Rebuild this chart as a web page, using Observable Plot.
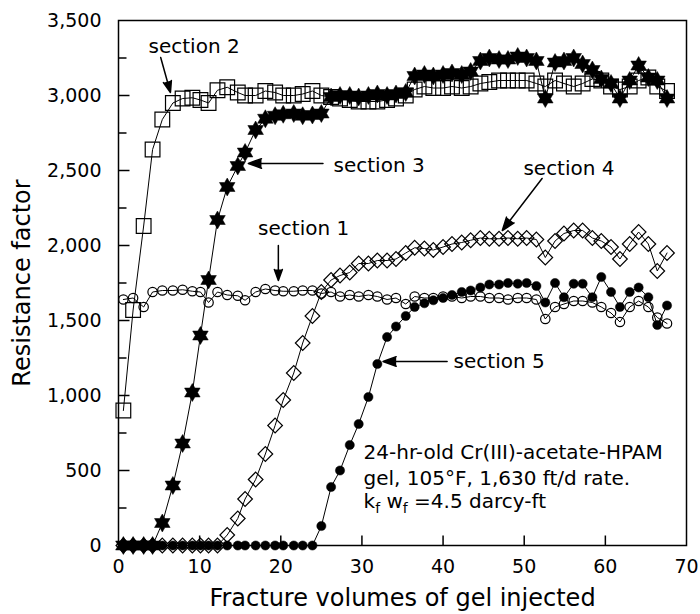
<!DOCTYPE html>
<html><head><meta charset="utf-8">
<script src="https://cdn.jsdelivr.net/npm/d3@7"></script>
<script src="https://cdn.jsdelivr.net/npm/@observablehq/plot@0.6"></script>
<style>body{margin:0;background:#fff}</style>
</head><body><div id="chart"></div>
<script>
// Fracture volumes of gel injected (shared sampling points)
const fv = [0.6,1.8,3.1,4.2,5.4,6.7,7.9,9.1,10.1,11.1,12.2,13.4,14.7,15.6,16.9,18.1,19.3,20.3,21.6,22.7,23.9,25.0,26.2,27.3,28.5,29.6,30.8,31.9,33.1,34.2,35.4,36.5,37.7,38.8,40.0,41.1,42.3,43.4,44.6,45.7,46.9,48.0,49.2,50.3,51.5,52.6,53.8,54.9,56.1,57.2,58.4,59.5,60.7,61.8,63.0,64.1,65.3,66.4,67.6];
// Resistance factor per section
const section1 = [1640,1650,1590,1690,1700,1700,1705,1695,1690,1620, 1690,1670,1665,1635,1690,1710,1700,1695,1695,1700, 1700,1680,1690,1660,1670,1660,1670,1660,1640,1650, 1610,1660,1650,1650,1660,1660,1650,1660,1660,1650, 1650,1640,1650,1650,1640,1510,1590,1610,1630,1630, 1620,1590,1550,1490,1590,1630,1590,1520,1480];
const section2 = [900,1570,2130,2640,2840,2950,2980,2985,2970,2950, 3035,3055,3020,3000,3000,3030,3020,3000,3000,3010, 3030,3000,2990,2980,2970,2960,2960,2960,2970,2980, 3000,3040,3060,3050,3050,3060,3050,3060,3080,3090, 3100,3100,3100,3100,3080,3060,3100,3080,3060,3080, 3110,3100,3060,3040,3060,3100,3120,3060,3030];
const section3 = [0,0,0,0,150,400,680,1020,1400,1770, 2170,2390,2530,2620,2770,2845,2865,2875,2880,2865, 2870,2880,2990,3000,3000,2990,3000,3010,3000,3010, 3020,3130,3140,3130,3140,3150,3140,3160,3230,3250, 3240,3240,3260,3250,3230,2980,3220,3230,3250,3210, 3170,3110,3080,2980,3100,3200,3120,3100,2980];
const section4 = [0,0,0,0,0,0,0,0,0,0, 0,70,180,310,440,610,800,970,1150,1350, 1530,1690,1770,1800,1820,1880,1880,1900,1900,1910, 1950,1985,1980,1970,1990,2010,2020,2035,2050,2045, 2045,2050,2045,2050,2040,1920,2030,2080,2100,2100, 2050,2030,1990,1910,2010,2090,2010,1830,1950];
const section5 = [0,0,0,0,0,0,0,0,0,0, 0,0,0,0,0,0,0,0,0,0, 0,130,390,500,670,810,990,1210,1390,1460, 1530,1590,1615,1635,1650,1670,1690,1700,1720,1740, 1740,1750,1745,1750,1730,1620,1750,1655,1745,1745, 1655,1790,1690,1590,1690,1720,1655,1470,1600];

const xTicks = [0,10,20,30,40,50,60,70];
const yTicks = [0,500,1000,1500,2000,2500,3000,3500];
const yMinorTicks = [250,750,1250,1750,2250,2750,3250];

// Section labels (data coordinates)
const labelText = ["section 2","section 3","section 1","section 4","section 5"];
const labelX = [3.7, 26.5, 17.2, 49.9, 41.3];
const labelY = [3327, 2533, 2113, 2513, 1227];
// Arrows: start -> tip
const arrowX1 = [5.2, 25.2, 19.7, 52.2, 40.5];
const arrowY1 = [3253, 2547, 2000, 2447, 1227];
const arrowX2 = [6.4, 16.0, 19.7, 47.3, 32.6];
const arrowY2 = [3020, 2547, 1767, 2100, 1227];
// Note lines
const noteText = ["24-hr-old Cr(III)-acetate-HPAM", "gel, 105°F, 1,630 ft/d rate.", "kf wf =4.5 darcy-ft"];
const noteX = [30.2, 30.2, 30.2];
const noteY = [620, 447, 290];

const rows = (ys) => fv.map((x, i) => ({x, y: ys[i]})).filter(d => d.y != null);
const labels = labelText.map((t, i) => ({t, x: labelX[i], y: labelY[i]}));
const arrows = arrowX1.map((x1, i) => ({x1, y1: arrowY1[i], x2: arrowX2[i], y2: arrowY2[i]}));
const notes = noteText.map((t, i) => ({t, x: noteX[i], y: noteY[i]}));

const hexagram = {
  draw(context, size) {
    const R = Math.sqrt(size / Math.PI), r = R / Math.sqrt(3);
    for (let i = 0; i < 12; i++) {
      const a = Math.PI / 6 * i - Math.PI / 2;
      const rr = i % 2 === 0 ? R : r;
      const px = rr * Math.cos(a), py = rr * Math.sin(a);
      if (i) context.lineTo(px, py); else context.moveTo(px, py);
    }
    context.closePath();
  }
};

// layout
const W = 700, H = 614, mL = 118, mR = 14, mT = 20, mB = 69;
const xDomain = [0, 70], yDomain = [0, 3500];
const pxToX = (p) => p * (xDomain[1] - xDomain[0]) / (W - mL - mR);
const pxToY = (p) => p * (yDomain[1] - yDomain[0]) / (H - mT - mB);

// inward tick segments (built from tick values, lengths given in pixels)
const xTickSegs = xTicks.slice(1, -1).map(v => ({x1: v, x2: v, y1: yDomain[0], y2: yDomain[0] + pxToY(10)}));
const yTickSegs = yTicks.slice(1, -1).map(v => ({x1: xDomain[0], x2: xDomain[0] + pxToX(11), y1: v, y2: v}))
  .concat(yMinorTicks.map(v => ({x1: xDomain[0], x2: xDomain[0] + pxToX(8), y1: v, y2: v})));

const fmt = d3.format(",");
const line = (ys) => Plot.line(rows(ys), {x: "x", y: "y", stroke: "black", strokeWidth: 1});

const chart = Plot.plot({
  width: W, height: H,
  marginLeft: mL, marginRight: mR, marginTop: mT, marginBottom: mB,
  style: {fontFamily: "DejaVu Sans", fontSize: "19px", color: "black", background: "white"},
  x: {domain: xDomain},
  y: {domain: yDomain},
  marks: [
    Plot.axisX({ticks: xTicks, tickSize: 0, tickPadding: 14, tickFormat: d => String(d), label: null}),
    Plot.axisY({ticks: yTicks, tickSize: 0, tickPadding: 17, tickFormat: d => fmt(d), label: null}),
    line(section1), Plot.dot(rows(section1), {x: "x", y: "y", r: 4.7, stroke: "black", strokeWidth: 1.2, fill: "none"}),
    line(section2), Plot.dot(rows(section2), {x: "x", y: "y", r: 8.3, symbol: "square", stroke: "black", strokeWidth: 1.2, fill: "none"}),
    line(section4), Plot.dot(rows(section4), {x: "x", y: "y", r: 6.6, symbol: "diamond2", stroke: "black", strokeWidth: 1.2, fill: "none"}),
    line(section3), Plot.dot(rows(section3), {x: "x", y: "y", r: 9, symbol: hexagram, fill: "black", stroke: "black", strokeWidth: 0.5}),
    line(section5), Plot.dot(rows(section5), {x: "x", y: "y", r: 4.6, fill: "black", stroke: "black", strokeWidth: 0.5}),
    Plot.frame({stroke: "black", strokeWidth: 1.5}),
    Plot.link(xTickSegs, {x1: "x1", y1: "y1", x2: "x2", y2: "y2", stroke: "black", strokeWidth: 1.5}),
    Plot.link(yTickSegs, {x1: "x1", y1: "y1", x2: "x2", y2: "y2", stroke: "black", strokeWidth: 1.5}),
    Plot.arrow(arrows, {x1: "x1", y1: "y1", x2: "x2", y2: "y2", stroke: "black", fill: "black", strokeWidth: 1.5, headLength: 14, headAngle: 40}),
    Plot.text(labels, {x: "x", y: "y", text: "t", textAnchor: "start", fontSize: 20}),
    Plot.text(notes, {x: "x", y: "y", text: "t", textAnchor: "start", fontSize: 20}),
    Plot.text(["Fracture volumes of gel injected"], {text: d => d, frameAnchor: "bottom", lineAnchor: "middle", dy: 53, fontSize: 24}),
    Plot.text(["Resistance factor"], {text: d => d, frameAnchor: "left", textAnchor: "middle", dx: -96, rotate: -90, fontSize: 24})
  ]
});

// subscripts for k_f w_f
chart.querySelectorAll("text").forEach(t => {
  if (t.textContent.includes("darcy-ft") && t.childElementCount === 0) {
    const ns = "http://www.w3.org/2000/svg";
    t.textContent = "";
    const parts = [["k", 0, null], ["f", 5, 14], [" w", -5, null], ["f", 5, 14], [" =4.5 darcy-ft", -5, null]];
    parts.forEach(([s, dy, fs]) => {
      const sp = document.createElementNS(ns, "tspan");
      sp.textContent = s;
      if (dy) sp.setAttribute("dy", dy);
      if (fs) sp.setAttribute("font-size", fs);
      t.appendChild(sp);
    });
  }
});

document.getElementById("chart").appendChild(chart);
</script>
</body></html>
